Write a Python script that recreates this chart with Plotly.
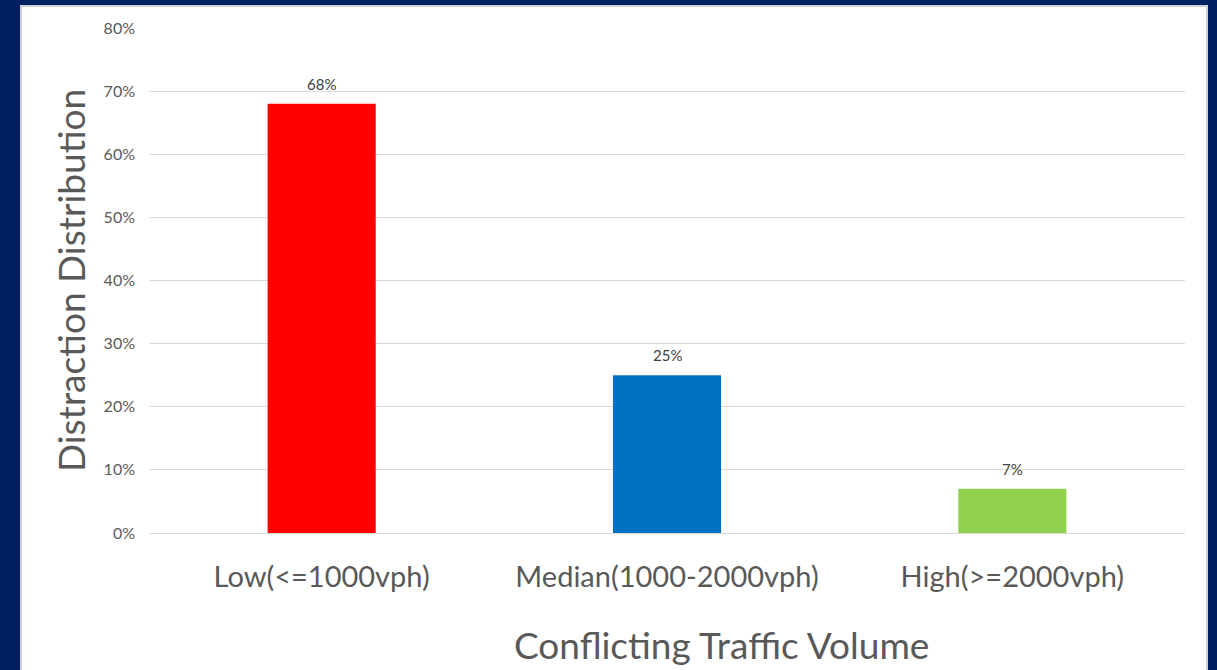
import plotly.graph_objects as go

# Share of distraction events by conflicting traffic volume
categories = ["Low(<=1000vph)", "Median(1000-2000vph)", "High(>=2000vph)"]
shares = [0.68, 0.25, 0.07]
bar_colors = ["#FF0000", "#0070C0", "#92D050"]
y_ticks = [0, 0.1, 0.2, 0.3, 0.4, 0.5, 0.6, 0.7, 0.8]

FONT = "Lato, 'Open Sans', sans-serif"
GREY = "#595959"

fig = go.Figure(
    go.Bar(
        x=categories,
        y=shares,
        marker=dict(color=bar_colors, line=dict(width=0)),
        hoverinfo="skip",
    )
)

# value labels above each bar
for cat, val in zip(categories, shares):
    fig.add_annotation(
        x=cat, y=val, text=f"{val:.0%}", showarrow=False,
        yanchor="bottom", yshift=9,
        font=dict(size=15, color="#404040", family=FONT),
    )

# horizontal axis title, set slightly right of the plot centre
fig.add_annotation(
    xref="paper", yref="paper", x=0.553, y=-111 / 505,
    xanchor="center", yanchor="middle", showarrow=False,
    text="Conflicting Traffic Volume",
    font=dict(size=37, color=GREY, family=FONT),
)

fig.update_layout(
    width=1217,
    height=670,
    paper_bgcolor="#002060",
    plot_bgcolor="rgba(0,0,0,0)",
    margin=dict(l=149, r=32, t=28, b=137),
    bargap=0.687,
    showlegend=False,
    font=dict(family=FONT, color=GREY),
    # white slide panel behind the chart
    shapes=[
        dict(
            type="rect", xref="paper", yref="paper", layer="below",
            x0=-128 / 1036, x1=1058 / 1036, y0=-160 / 505, y1=1 + 22 / 505,
            fillcolor="#FFFFFF", line=dict(color="#D0D0D0", width=2),
        )
    ],
)

fig.update_xaxes(
    showgrid=False,
    showline=False,
    ticks="",
    tickfont=dict(size=29, color=GREY, family=FONT),
    ticklabelstandoff=24,
)

fig.update_yaxes(
    range=[0, 0.8],
    tickvals=y_ticks,
    tickformat=".0%",
    showgrid=True,
    gridcolor="#D9D9D9",
    gridwidth=1,
    zeroline=True,
    zerolinecolor="#D9D9D9",
    zerolinewidth=1,
    showline=False,
    ticks="",
    tickfont=dict(size=16, color=GREY, family=FONT),
    ticklabelstandoff=13,
    title=dict(text="Distraction Distribution", font=dict(size=37, color=GREY, family=FONT), standoff=6),
)

fig.write_html("out.html")
